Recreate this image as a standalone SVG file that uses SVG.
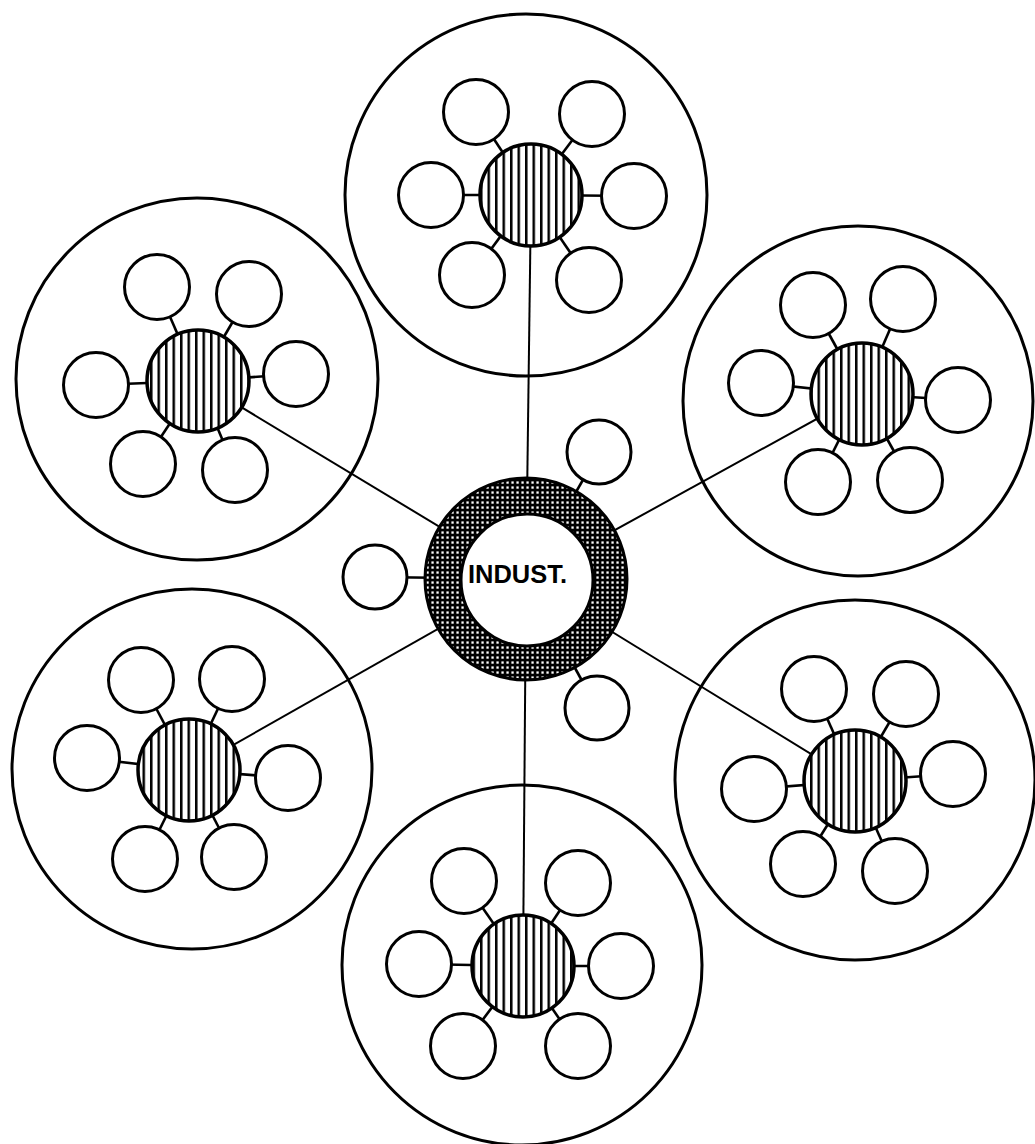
<svg xmlns="http://www.w3.org/2000/svg" width="1035" height="1144" viewBox="0 0 1035 1144">
<style>
.big{fill:none;stroke:#000;stroke-width:3}
.sat{fill:#fff;stroke:#000;stroke-width:3}
.hub{fill:url(#hatch);stroke:#000;stroke-width:3.5}
.link{stroke:#000;stroke-width:2;fill:none}
.spoke{stroke:#000;stroke-width:2.6;fill:none}
.lbl{font-family:"Liberation Sans",Arial,sans-serif;font-weight:bold;font-size:26px;fill:#000}
</style>
<defs>
<pattern id="hatch" patternUnits="userSpaceOnUse" width="7.5" height="10">
<rect width="7.5" height="10" fill="#fff"/>
<rect x="0" y="0" width="2.5" height="10" fill="#000"/>
</pattern>
<pattern id="stipple" patternUnits="userSpaceOnUse" width="5" height="5">
<rect width="5" height="5" fill="#000"/>
<rect x="1.4" y="1.4" width="2.3" height="2.3" fill="#fff"/>
</pattern>
</defs>
<rect width="1035" height="1144" fill="#fff"/>

<g id="boundaries">
<circle id="area-top" class="big" cx="526" cy="195" r="181"/>
<circle id="area-topleft" class="big" cx="197" cy="379" r="181"/>
<circle id="area-topright" class="big" cx="858" cy="401" r="175"/>
<circle id="area-bottomleft" class="big" cx="192" cy="769" r="180"/>
<circle id="area-bottomright" class="big" cx="855" cy="780" r="180"/>
<circle id="area-bottom" class="big" cx="522" cy="965" r="180"/>
</g>

<g id="connectors">
<line class="link" x1="526" y1="579" x2="531" y2="195"/>
<line class="link" x1="526" y1="579" x2="198" y2="381"/>
<line class="link" x1="526" y1="579" x2="862" y2="394"/>
<line class="link" x1="526" y1="579" x2="189" y2="770"/>
<line class="link" x1="526" y1="579" x2="855" y2="781"/>
<line class="link" x1="526" y1="579" x2="523" y2="966"/>
<line class="spoke" x1="526" y1="579" x2="375" y2="577"/>
<line class="spoke" x1="526" y1="579" x2="599" y2="452"/>
<line class="spoke" x1="526" y1="579" x2="597" y2="708"/>
<line class="spoke" x1="531" y1="195" x2="476" y2="112"/>
<line class="spoke" x1="531" y1="195" x2="592" y2="114"/>
<line class="spoke" x1="531" y1="195" x2="431" y2="195"/>
<line class="spoke" x1="531" y1="195" x2="634" y2="196"/>
<line class="spoke" x1="531" y1="195" x2="472" y2="275"/>
<line class="spoke" x1="531" y1="195" x2="589" y2="280"/>
<line class="spoke" x1="198" y1="381" x2="157" y2="287"/>
<line class="spoke" x1="198" y1="381" x2="249" y2="294"/>
<line class="spoke" x1="198" y1="381" x2="96" y2="385"/>
<line class="spoke" x1="198" y1="381" x2="296" y2="374"/>
<line class="spoke" x1="198" y1="381" x2="143" y2="464"/>
<line class="spoke" x1="198" y1="381" x2="235" y2="470"/>
<line class="spoke" x1="862" y1="394" x2="813" y2="305"/>
<line class="spoke" x1="862" y1="394" x2="903" y2="299"/>
<line class="spoke" x1="862" y1="394" x2="761" y2="383"/>
<line class="spoke" x1="862" y1="394" x2="958" y2="400"/>
<line class="spoke" x1="862" y1="394" x2="818" y2="482"/>
<line class="spoke" x1="862" y1="394" x2="910" y2="480"/>
<line class="spoke" x1="189" y1="770" x2="141" y2="680"/>
<line class="spoke" x1="189" y1="770" x2="232" y2="679"/>
<line class="spoke" x1="189" y1="770" x2="87" y2="758"/>
<line class="spoke" x1="189" y1="770" x2="288" y2="778"/>
<line class="spoke" x1="189" y1="770" x2="145" y2="859"/>
<line class="spoke" x1="189" y1="770" x2="234" y2="857"/>
<line class="spoke" x1="855" y1="781" x2="814" y2="689"/>
<line class="spoke" x1="855" y1="781" x2="906" y2="694"/>
<line class="spoke" x1="855" y1="781" x2="754" y2="789"/>
<line class="spoke" x1="855" y1="781" x2="953" y2="774"/>
<line class="spoke" x1="855" y1="781" x2="803" y2="864"/>
<line class="spoke" x1="855" y1="781" x2="895" y2="871"/>
<line class="spoke" x1="523" y1="966" x2="464" y2="881"/>
<line class="spoke" x1="523" y1="966" x2="578" y2="883"/>
<line class="spoke" x1="523" y1="966" x2="419" y2="964"/>
<line class="spoke" x1="523" y1="966" x2="621" y2="966"/>
<line class="spoke" x1="523" y1="966" x2="463" y2="1046"/>
<line class="spoke" x1="523" y1="966" x2="578" y2="1046"/>
</g>

<g id="cluster-top">
<circle class="sat" cx="476" cy="112" r="32.5"/>
<circle class="sat" cx="592" cy="114" r="32.5"/>
<circle class="sat" cx="431" cy="195" r="32.5"/>
<circle class="sat" cx="634" cy="196" r="32.5"/>
<circle class="sat" cx="472" cy="275" r="32.5"/>
<circle class="sat" cx="589" cy="280" r="32.5"/>
<circle class="hub" cx="531" cy="195" r="51"/>
</g>
<g id="cluster-topleft">
<circle class="sat" cx="157" cy="287" r="32.5"/>
<circle class="sat" cx="249" cy="294" r="32.5"/>
<circle class="sat" cx="96" cy="385" r="32.5"/>
<circle class="sat" cx="296" cy="374" r="32.5"/>
<circle class="sat" cx="143" cy="464" r="32.5"/>
<circle class="sat" cx="235" cy="470" r="32.5"/>
<circle class="hub" cx="198" cy="381" r="51"/>
</g>
<g id="cluster-topright">
<circle class="sat" cx="813" cy="305" r="32.5"/>
<circle class="sat" cx="903" cy="299" r="32.5"/>
<circle class="sat" cx="761" cy="383" r="32.5"/>
<circle class="sat" cx="958" cy="400" r="32.5"/>
<circle class="sat" cx="818" cy="482" r="32.5"/>
<circle class="sat" cx="910" cy="480" r="32.5"/>
<circle class="hub" cx="862" cy="394" r="51"/>
</g>
<g id="cluster-bottomleft">
<circle class="sat" cx="141" cy="680" r="32.5"/>
<circle class="sat" cx="232" cy="679" r="32.5"/>
<circle class="sat" cx="87" cy="758" r="32.5"/>
<circle class="sat" cx="288" cy="778" r="32.5"/>
<circle class="sat" cx="145" cy="859" r="32.5"/>
<circle class="sat" cx="234" cy="857" r="32.5"/>
<circle class="hub" cx="189" cy="770" r="51"/>
</g>
<g id="cluster-bottomright">
<circle class="sat" cx="814" cy="689" r="32.5"/>
<circle class="sat" cx="906" cy="694" r="32.5"/>
<circle class="sat" cx="754" cy="789" r="32.5"/>
<circle class="sat" cx="953" cy="774" r="32.5"/>
<circle class="sat" cx="803" cy="864" r="32.5"/>
<circle class="sat" cx="895" cy="871" r="32.5"/>
<circle class="hub" cx="855" cy="781" r="51"/>
</g>
<g id="cluster-bottom">
<circle class="sat" cx="464" cy="881" r="32.5"/>
<circle class="sat" cx="578" cy="883" r="32.5"/>
<circle class="sat" cx="419" cy="964" r="32.5"/>
<circle class="sat" cx="621" cy="966" r="32.5"/>
<circle class="sat" cx="463" cy="1046" r="32.5"/>
<circle class="sat" cx="578" cy="1046" r="32.5"/>
<circle class="hub" cx="523" cy="966" r="51"/>
</g>

<g id="center-satellites">
<circle class="sat" cx="375" cy="577" r="32"/>
<circle class="sat" cx="599" cy="452" r="32"/>
<circle class="sat" cx="597" cy="708" r="32"/>
</g>

<g id="indust">
<circle cx="526" cy="579" r="101" fill="url(#stipple)" stroke="#000" stroke-width="3"/>
<circle cx="527" cy="580" r="66" fill="#fff" stroke="#000" stroke-width="3"/>
<text class="lbl" x="468" y="583" textLength="99" lengthAdjust="spacingAndGlyphs">INDUST.</text>
</g>
</svg>
